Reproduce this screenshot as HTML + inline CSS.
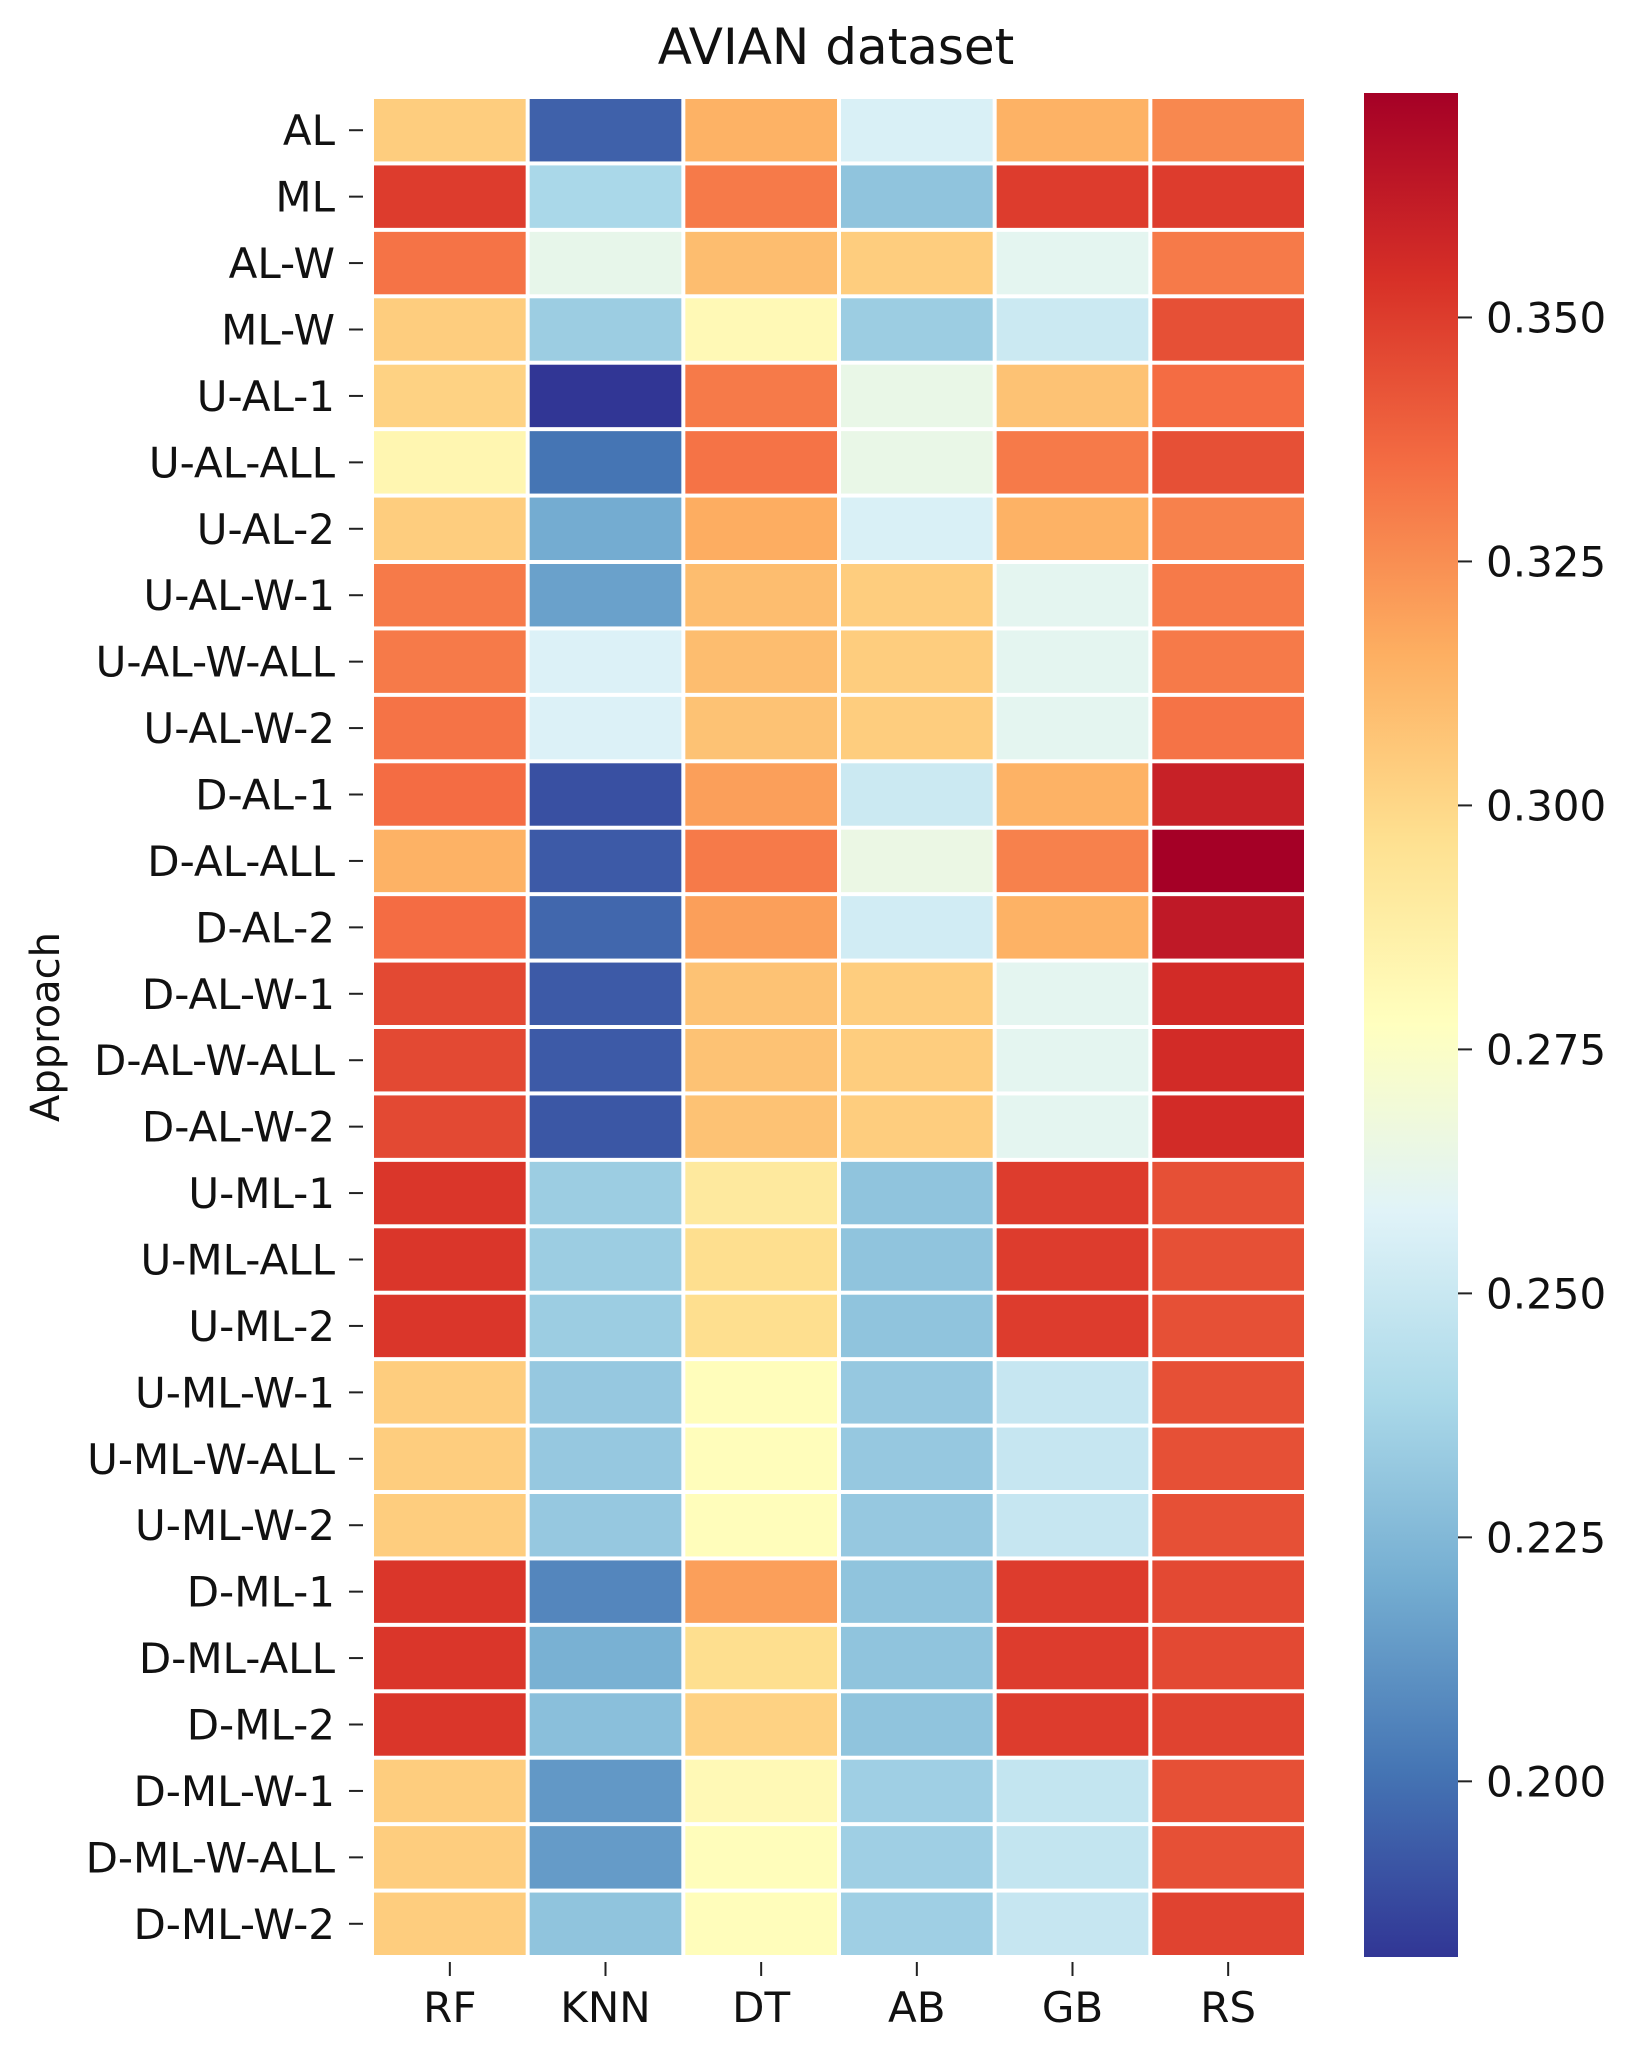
<!DOCTYPE html>
<html><head><meta charset="utf-8"><style>
html,body{margin:0;padding:0;background:#fff;}
svg{display:block;font-family:"DejaVu Sans","Liberation Sans",sans-serif;}
</style></head><body>
<svg id="chart" width="1631" height="2049" viewBox="0 0 1631 2049" xmlns="http://www.w3.org/2000/svg">
<defs><linearGradient id="cbgrad" x1="0" y1="1" x2="0" y2="0">
<stop offset="0" stop-color="rgb(49,54,149)"/><stop offset="0.1" stop-color="rgb(69,117,180)"/><stop offset="0.2" stop-color="rgb(116,173,209)"/><stop offset="0.3" stop-color="rgb(171,217,233)"/><stop offset="0.4" stop-color="rgb(224,243,248)"/><stop offset="0.5" stop-color="rgb(255,255,191)"/><stop offset="0.6" stop-color="rgb(254,224,144)"/><stop offset="0.7" stop-color="rgb(253,174,97)"/><stop offset="0.8" stop-color="rgb(244,109,67)"/><stop offset="0.9" stop-color="rgb(215,48,39)"/><stop offset="1" stop-color="rgb(165,0,38)"/>
</linearGradient></defs>
<text x="836" y="64" font-size="50" text-anchor="middle" fill="#111">AVIAN dataset</text>
<text x="0" y="0" font-size="40" text-anchor="middle" fill="#111" transform="translate(59,1027) rotate(-90)">Approach</text>
<g id="cells"></g><g id="yticks"></g><g id="xticks"></g>
<rect x="1364" y="93" width="94" height="1864" fill="url(#cbgrad)"/>
<g id="cticks"></g>
</svg>
<script>
const rows = ["AL","ML","AL-W","ML-W","U-AL-1","U-AL-ALL","U-AL-2","U-AL-W-1","U-AL-W-ALL","U-AL-W-2","D-AL-1","D-AL-ALL","D-AL-2","D-AL-W-1","D-AL-W-ALL","D-AL-W-2","U-ML-1","U-ML-ALL","U-ML-2","U-ML-W-1","U-ML-W-ALL","U-ML-W-2","D-ML-1","D-ML-ALL","D-ML-2","D-ML-W-1","D-ML-W-ALL","D-ML-W-2"];
const cols = ["RF","KNN","DT","AB","GB","RS"];
const valRF  = [0.304,0.350,0.333,0.304,0.302,0.283,0.304,0.331,0.331,0.333,0.335,0.314,0.335,0.346,0.346,0.346,0.352,0.352,0.352,0.304,0.304,0.304,0.352,0.352,0.352,0.304,0.304,0.304];
const valKNN = [0.195,0.239,0.263,0.234,0.182,0.201,0.220,0.216,0.257,0.257,0.190,0.193,0.197,0.193,0.193,0.192,0.234,0.234,0.234,0.232,0.232,0.232,0.207,0.222,0.228,0.213,0.214,0.230];
const valDT  = [0.314,0.331,0.310,0.281,0.331,0.333,0.316,0.310,0.310,0.308,0.320,0.331,0.320,0.308,0.308,0.308,0.291,0.297,0.297,0.279,0.279,0.279,0.320,0.297,0.302,0.281,0.279,0.279];
const valAB  = [0.256,0.230,0.304,0.234,0.264,0.264,0.256,0.304,0.304,0.304,0.251,0.265,0.253,0.304,0.304,0.304,0.230,0.230,0.230,0.232,0.232,0.232,0.230,0.230,0.230,0.235,0.235,0.235];
const valGB  = [0.314,0.350,0.261,0.251,0.308,0.331,0.314,0.261,0.261,0.261,0.314,0.329,0.314,0.261,0.261,0.261,0.350,0.350,0.350,0.249,0.249,0.249,0.350,0.350,0.350,0.248,0.248,0.249];
const valRS  = [0.327,0.350,0.331,0.344,0.335,0.344,0.329,0.331,0.331,0.333,0.360,0.373,0.363,0.356,0.356,0.356,0.344,0.344,0.344,0.344,0.344,0.344,0.346,0.346,0.348,0.344,0.344,0.348];
const cbTicks = [0.200,0.225,0.250,0.275,0.300,0.325,0.350];
const series = [valRF,valKNN,valDT,valAB,valGB,valRS];

const vmin=0.182, vmax=0.373;
const gx0=372, gx1=1306, gy0=97, gy1=1957;
const cbTop=93;
const cw=(gx1-gx0)/cols.length, rh=(gy1-gy0)/rows.length;
const xPos=i=>gx0+i*cw, yPos=j=>gy0+j*rh;
const cbY=v=>gy1-(v-vmin)/(vmax-vmin)*(gy1-cbTop);
const stops=[[49,54,149],[69,117,180],[116,173,209],[171,217,233],[224,243,248],[255,255,191],[254,224,144],[253,174,97],[244,109,67],[215,48,39],[165,0,38]];
function cmap(v){let t=Math.max(0,Math.min(1,(v-vmin)/(vmax-vmin)))*10;let i=Math.min(9,Math.floor(t)),f=t-i;const a=stops[i],b=stops[i+1];return `rgb(${a.map((c,k)=>Math.round(c+(b[k]-c)*f)).join(',')})`;}
const NS="http://www.w3.org/2000/svg";
function mk(tag,attrs,parent){const e=document.createElementNS(NS,tag);for(const k in attrs)e.setAttribute(k,attrs[k]);parent.appendChild(e);return e;}
const gc=document.getElementById('cells'),gy=document.getElementById('yticks'),gxx=document.getElementById('xticks'),gcb=document.getElementById('cticks');
series.forEach((s,i)=>{s.forEach((v,j)=>{
  const r=mk('rect',{x:xPos(i)+2,y:yPos(j)+2,width:cw-4,height:rh-4,fill:cmap(v)},gc);
  
  
});});
rows.forEach((name,j)=>{
  const yc=yPos(j)+rh/2;
  mk('line',{x1:349,x2:363,y1:yc,y2:yc,stroke:'#222','stroke-width':2},gy);
  const t=mk('text',{x:335,y:yc+15,'font-size':42,'text-anchor':'end',fill:'#111'},gy);
  t.textContent=name;
  
  
});
cols.forEach((name,i)=>{
  const xc=xPos(i)+cw/2;
  mk('line',{x1:xc,x2:xc,y1:1962,y2:1976,stroke:'#222','stroke-width':2},gxx);
  const t=mk('text',{x:xc,y:2022,'font-size':42,'text-anchor':'middle',fill:'#111'},gxx);
  t.textContent=name;
  
  
});
cbTicks.forEach(v=>{
  const y=cbY(v);
  mk('line',{x1:1458,x2:1472,y1:y,y2:y,stroke:'#222','stroke-width':2},gcb);
  const t=mk('text',{x:1486,y:y+15,'font-size':42,fill:'#111'},gcb);
  t.textContent=v.toFixed(3);
  
  
});
</script>
</body></html>
